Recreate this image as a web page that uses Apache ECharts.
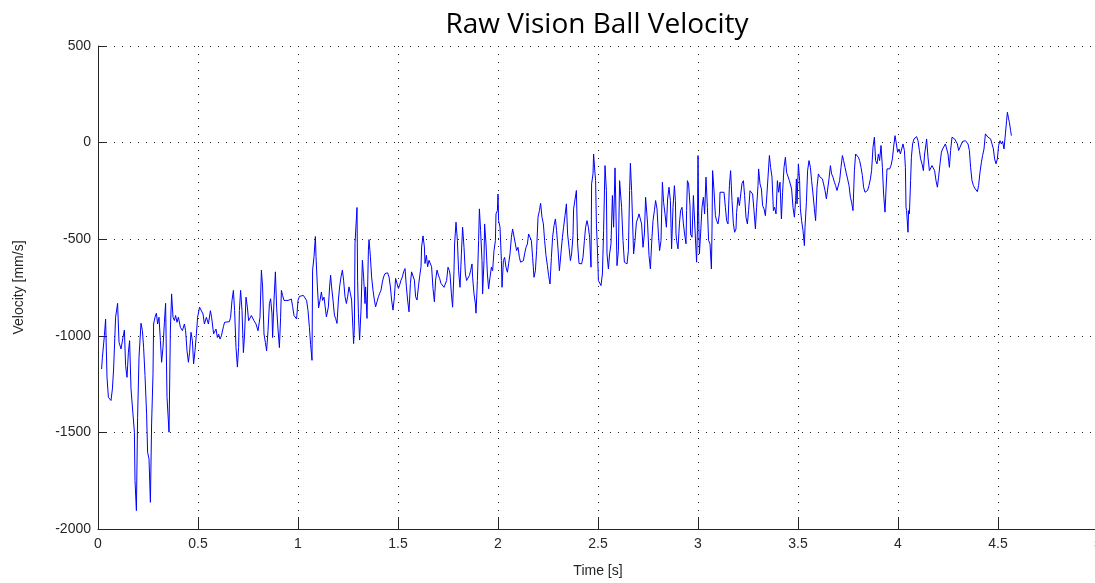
<!DOCTYPE html>
<html>
<head>
<meta charset="utf-8">
<title>Raw Vision Ball Velocity</title>
<script src="https://cdn.jsdelivr.net/npm/echarts@6/dist/echarts.min.js"></script>
<style>
  html, body { margin: 0; padding: 0; background: #ffffff; }
  #chart { width: 1095px; height: 583px; }
</style>
</head>
<body>
<div id="chart"></div>
<script>
// Ball velocity from the vision system, in time order, split into pieces.
// Each timeX array pairs index-by-index with its velX array (s, mm/s).
const timeA = [
  0.018,0.022,0.032,0.038,0.045,0.052,0.065,0.072,0.078,0.088,
  0.098,0.105,0.115,0.125,0.132,0.138,0.145,0.152,0.158,0.165,
  0.175,0.182,0.185,0.192,0.198,0.205,0.215,0.222,0.228,0.235,
  0.243,0.248,0.255,0.262,0.268,0.275,0.278,0.285,0.292,0.298,
  0.305,0.312,0.318,0.325,0.332,0.338,0.345,0.352,0.355,0.362,
  0.368,0.375,0.382,0.388,0.395,0.402,0.412,0.422,0.432,0.438,
  0.445,0.452,0.458,0.465,0.472,0.478,0.485,0.492,0.498,0.508,
  0.518,0.525,0.532,0.542,0.552,0.562,0.568,0.578
];
const velA = [
  -1172,-1111,-999,-913,-1215,-1318,-1335,-1275,-1172,-904,
  -832,-1033,-1068,-1008,-970,-1154,-1215,-1085,-1025,-1275,
  -1284,-1499,-1749,-1905,-1422,-1111,-935,-973,-1059,-1206,
  -1404,-1603,-1637,-1862,-1456,-1197,-939,-904,-883,-939,
  -904,-1025,-1137,-1059,-930,-832,-1318,-1318,-1499,-965,
  -783,-904,-921,-895,-930,-904,-956,-973,-939,-973,
  -1077,-1137,-1085,-982,-1025,-1146,-1077,-990,-904,-852,
  -844,-887,-939,-904,-939,-870,-904,-990
];

const timeB = [
  0.580,0.590,0.597,0.603,0.610,0.617,0.627,0.633,0.643,0.657,
  0.663,0.670,0.677,0.683,0.690,0.697,0.703,0.707,0.713,0.720,
  0.727,0.733,0.740,0.747,0.753,0.760,0.767,0.773,0.780,0.790,
  0.800,0.810,0.817,0.823,0.830,0.837,0.843,0.850,0.857,0.863,
  0.870,0.873,0.880,0.887,0.893,0.900,0.907,0.913,0.917,0.923,
  0.930,0.940,0.950,0.960,0.967,0.973,0.980,0.987,0.993,1.000,
  1.007,1.017,1.027,1.037,1.043,1.050,1.057,1.063,1.070,1.073,
  1.080,1.087,1.090,1.097,1.103,1.110,1.117,1.123,1.130
];
const velB = [
  -991,-965,-1009,-991,-1017,-1000,-953,-930,-927,-927,
  -904,-817,-765,-869,-1061,-1162,-1061,-869,-765,-869,
  -1087,-991,-800,-852,-922,-922,-895,-904,-922,-939,
  -974,-904,-660,-747,-991,-1035,-1078,-974,-834,-808,
  -887,-1009,-817,-669,-852,-965,-1061,-904,-765,-791,
  -817,-814,-817,-808,-810,-848,-895,-887,-913,-817,
  -796,-791,-791,-800,-817,-869,-956,-1044,-1127,-660,
  -591,-486,-591,-747,-855,-817,-773,-817,-800
];

const timeC = [
  1.142,1.148,1.152,1.158,1.163,1.168,1.175,1.182,1.188,1.195,
  1.202,1.208,1.215,1.222,1.228,1.235,1.242,1.248,1.255,1.262,
  1.268,1.275,1.278,1.282,1.285,1.292,1.295,1.298,1.302,1.308,
  1.315,1.322,1.328,1.335,1.338,1.345,1.352,1.355,1.362,1.368,
  1.375,1.382,1.388,1.395,1.402,1.408,1.415,1.422,1.428,1.435,
  1.442,1.448,1.455,1.462,1.468,1.475,1.482,1.488,1.495,1.502,
  1.508,1.515,1.522,1.528,1.535,1.542,1.548,1.555,1.562,1.568,
  1.575,1.582,1.588,1.595,1.602,1.608,1.615,1.618,1.625,1.632,
  1.635,1.642,1.648,1.655,1.662,1.668,1.675,1.682,1.688,1.695,
  1.702,1.708,1.715,1.722
];
const velC = [
  -902,-910,-850,-747,-686,-747,-815,-893,-910,-936,
  -815,-747,-695,-660,-712,-798,-833,-798,-747,-781,
  -815,-971,-1040,-953,-522,-522,-336,-712,-884,-1022,
  -867,-609,-695,-833,-747,-910,-557,-502,-591,-695,
  -764,-815,-850,-824,-798,-781,-764,-721,-695,-678,
  -669,-674,-695,-747,-815,-867,-798,-703,-712,-755,
  -738,-712,-695,-669,-652,-747,-815,-876,-729,-669,
  -678,-712,-798,-815,-747,-695,-643,-540,-483,-540,
  -626,-583,-643,-609,-600,-643,-755,-824,-712,-660,
  -686,-703,-729,-738
];

const timeD = [
  1.730,1.737,1.743,1.750,1.757,1.760,1.767,1.773,1.780,1.783,
  1.790,1.797,1.803,1.810,1.817,1.823,1.830,1.837,1.843,1.850,
  1.857,1.863,1.870,1.873,1.880,1.887,1.890,1.897,1.903,1.907,
  1.913,1.920,1.923,1.930,1.933,1.940,1.947,1.953,1.960,1.967,
  1.973,1.980,1.987,1.990,1.997,2.000,2.003,2.010,2.017,2.020,
  2.027,2.033,2.040,2.047,2.053,2.060,2.067,2.073,2.080,2.087,
  2.093,2.100,2.107,2.113,2.120,2.127,2.133,2.140,2.147,2.153,
  2.160,2.167,2.173,2.180,2.187,2.193,2.200,2.207,2.213,2.220,
  2.227,2.233,2.240,2.247,2.253,2.260,2.267,2.273,2.280,2.287,
  2.293,2.300,2.307
];
const velD = [
  -749,-740,-714,-645,-663,-680,-783,-852,-663,-525,
  -412,-507,-663,-749,-576,-438,-542,-680,-714,-723,
  -688,-663,-628,-697,-783,-835,-883,-714,-507,-343,
  -456,-611,-783,-611,-421,-525,-680,-757,-697,-645,
  -663,-559,-507,-369,-352,-266,-404,-438,-611,-749,
  -611,-594,-645,-671,-628,-576,-490,-447,-456,-525,
  -559,-542,-594,-619,-628,-611,-576,-542,-525,-473,
  -469,-507,-594,-697,-663,-559,-387,-352,-314,-387,
  -421,-507,-585,-637,-688,-732,-594,-490,-430,-395,
  -456,-550,-663
];

const timeE = [
  2.315,2.322,2.328,2.335,2.342,2.348,2.355,2.362,2.368,2.375,
  2.378,2.385,2.392,2.398,2.405,2.412,2.418,2.425,2.432,2.438,
  2.445,2.452,2.458,2.465,2.468,2.475,2.478,2.485,2.488,2.492,
  2.498,2.502,2.508,2.515,2.522,2.528,2.532,2.535,2.542,2.545,
  2.552,2.558,2.565,2.572,2.578,2.585,2.588,2.595,2.602,2.608,
  2.612,2.618,2.625,2.632,2.638,2.645,2.652,2.658,2.662,2.668,
  2.675,2.678,2.685,2.692,2.698,2.705,2.712,2.718,2.725,2.732,
  2.738,2.742,2.748,2.755,2.762,2.768,2.775,2.782,2.788,2.795,
  2.802,2.808,2.815,2.822,2.828,2.835,2.842,2.848,2.855,2.862,
  2.868,2.875,2.882
];
const velE = [
  -663,-490,-438,-378,-317,-473,-542,-611,-576,-481,
  -343,-335,-248,-524,-625,-628,-628,-593,-507,-438,
  -404,-438,-490,-645,-214,-162,-59,-162,-197,-421,
  -576,-714,-714,-740,-680,-455,-266,-119,-248,-576,
  -654,-576,-524,-274,-438,-131,-266,-637,-559,-197,
  -193,-335,-507,-619,-628,-628,-559,-248,-107,-248,
  -240,-576,-507,-412,-395,-369,-361,-421,-542,-473,
  -283,-292,-421,-585,-654,-524,-404,-352,-300,-343,
  -473,-559,-507,-205,-309,-369,-438,-292,-231,-300,
  -550,-335,-223
];

const timeF = [
  2.887,2.890,2.893,2.900,2.907,2.913,2.920,2.927,2.933,2.940,
  2.943,2.947,2.953,2.960,2.963,2.970,2.977,2.983,2.990,2.993,
  2.997,3.000,3.003,3.007,3.013,3.020,3.027,3.033,3.040,3.047,
  3.053,3.060,3.067,3.070,3.073,3.080,3.087,3.093,3.100,3.107,
  3.110,3.120,3.130,3.137,3.143,3.150,3.157,3.163,3.170,3.177,
  3.183,3.190,3.193,3.200,3.207,3.213,3.220,3.227,3.233,3.240,
  3.247,3.253,3.260,3.267,3.273,3.280,3.287,3.293,3.300,3.303,
  3.310,3.317,3.323,3.330,3.337,3.343,3.350,3.357,3.363,3.370,
  3.377,3.383,3.390,3.397,3.403,3.410,3.417,3.423,3.430,3.437,
  3.443,3.450,3.457
];
const velF = [
  -300,-473,-507,-550,-421,-352,-335,-421,-473,-524,
  -352,-197,-214,-326,-473,-490,-274,-283,-559,-619,
  -456,-67,-352,-576,-473,-335,-283,-369,-179,-335,
  -507,-524,-654,-456,-145,-249,-378,-404,-421,-369,
  -257,-257,-257,-335,-404,-421,-223,-145,-300,-421,
  -464,-447,-361,-283,-326,-335,-211,-197,-274,-387,
  -421,-352,-249,-240,-266,-352,-447,-335,-223,-136,
  -214,-240,-326,-343,-378,-292,-179,-67,-128,-179,
  -352,-335,-369,-197,-257,-205,-395,-257,-128,-76,
  -154,-162,-197
];

const timeG = [
  3.462,3.468,3.475,3.482,3.488,3.492,3.495,3.502,3.508,3.512,
  3.518,3.525,3.532,3.535,3.542,3.548,3.555,3.562,3.568,3.575,
  3.582,3.588,3.595,3.602,3.608,3.615,3.622,3.628,3.635,3.642,
  3.648,3.655,3.662,3.668,3.675,3.682,3.688,3.695,3.702,3.708,
  3.715,3.722,3.728,3.735,3.742,3.748,3.755,3.762,3.768,3.775,
  3.782,3.788,3.795,3.802,3.808,3.815,3.822,3.828,3.835,3.842,
  3.848,3.855,3.862,3.868,3.875,3.882,3.888,3.895,3.902,3.908,
  3.915,3.922,3.928,3.935,3.938,3.945,3.952,3.958,3.965,3.972,
  3.978,3.985,3.992,3.998,4.005,4.012,4.018,4.025,4.032
];
const velG = [
  -197,-240,-335,-386,-300,-188,-317,-110,-197,-343,
  -404,-455,-533,-438,-309,-145,-93,-128,-197,-266,
  -343,-404,-231,-162,-176,-179,-188,-214,-248,-291,
  -283,-188,-119,-162,-179,-205,-222,-248,-248,-197,
  -128,-67,-93,-128,-162,-188,-222,-283,-309,-352,
  -145,-59,-59,-76,-93,-128,-171,-231,-257,-257,
  -248,-222,-188,-145,-24,28,-93,-110,-59,-93,
  -15,-128,-266,-360,-291,-136,-136,-136,-119,-84,
  -24,36,-7,-50,-33,-59,-50,-7,-41
];

const timeH = [
  4.037,4.040,4.043,4.050,4.053,4.057,4.063,4.067,4.073,4.080,
  4.087,4.093,4.100,4.107,4.113,4.120,4.127,4.133,4.140,4.143,
  4.150,4.157,4.163,4.170,4.177,4.183,4.190,4.197,4.203,4.210,
  4.217,4.223,4.230,4.237,4.243,4.250,4.257,4.263,4.270,4.277,
  4.283,4.290,4.297,4.303,4.310,4.317,4.323,4.330,4.337,4.343,
  4.350,4.357,4.363,4.370,4.377,4.383,4.390,4.397,4.403,4.410,
  4.417,4.423,4.430,4.437,4.443,4.450,4.457,4.463,4.470,4.477,
  4.483,4.490,4.497,4.503,4.510,4.517,4.523,4.530,4.537,4.543,
  4.547,4.553,4.557,4.563,4.567
];
const velH = [
  -128,-335,-352,-464,-352,-369,-197,-76,-7,19,
  28,31,10,-41,-84,-110,-145,-59,-7,19,
  -76,-145,-136,-119,-119,-145,-197,-231,-179,-110,
  -50,-33,-24,-7,2,-59,-128,-41,28,31,
  19,10,-7,-41,-24,-7,6,14,10,2,
  -7,-41,-128,-197,-222,-235,-240,-254,-222,-153,
  -102,-67,-33,45,45,28,19,19,-7,-33,
  -84,-110,-84,-15,10,-7,7,-33,45,114,
  157,123,105,62,36
];

// Axis ranges (seconds / mm per second)
const xTicks = { min: 0, max: 5, step: 0.5 };
const yTicks = { min: -2000, max: 500, step: 500 };

const timeParts = [timeA, timeB, timeC, timeD, timeE, timeF, timeG, timeH];
const velParts = [velA, velB, velC, velD, velE, velF, velG, velH];

const points = [];
timeParts.forEach((ts, k) => {
  const vs = velParts[k];
  const n = Math.min(ts.length, vs.length);
  for (let i = 0; i < n; i++) points.push([ts[i], vs[i]]);
});

const textColor = '#262626';
const labelFont = 'Liberation Sans, Arial, sans-serif';
const gridDots = { type: [1, 7], color: '#222', width: 1 };

const chart = echarts.init(document.getElementById('chart'), null, { renderer: 'canvas' });
chart.setOption({
  backgroundColor: '#ffffff',
  animation: false,
  title: {
    text: 'Raw Vision Ball Velocity',
    left: 592,
    top: 6,
    textAlign: 'center',
    textStyle: { fontFamily: 'Open Sans, sans-serif', fontSize: 28, fontWeight: 'normal', color: '#000' }
  },
  grid: { left: 98, right: -3, top: 46, bottom: 54, containLabel: false, outerBoundsMode: 'none' },
  xAxis: {
    type: 'value',
    min: xTicks.min, max: xTicks.max, interval: xTicks.step,
    name: 'Time [s]',
    nameLocation: 'middle',
    nameGap: 35,
    nameTextStyle: { fontFamily: labelFont, fontSize: 14, color: textColor },
    axisLine: { show: true, onZero: false, lineStyle: { color: textColor, width: 1 } },
    axisTick: { show: true, inside: true, length: 12, lineStyle: { color: textColor, width: 1 } },
    axisLabel: { fontFamily: labelFont, fontSize: 14, color: textColor, margin: 8, formatter: v => String(v) },
    splitLine: { show: true, lineStyle: gridDots }
  },
  yAxis: {
    type: 'value',
    min: yTicks.min, max: yTicks.max, interval: yTicks.step,
    name: 'Velocity [mm/s]',
    nameLocation: 'middle',
    nameRotate: 90,
    nameGap: 72,
    nameTextStyle: { fontFamily: labelFont, fontSize: 14, color: textColor },
    axisLine: { show: true, onZero: false, lineStyle: { color: textColor, width: 1 } },
    axisTick: { show: true, inside: true, length: 9, lineStyle: { color: textColor, width: 1 } },
    axisLabel: { fontFamily: labelFont, fontSize: 14, color: textColor, margin: 7, formatter: v => String(v) },
    splitLine: { show: true, lineStyle: gridDots }
  },
  series: [{
    type: 'line',
    data: points,
    showSymbol: false,
    symbol: 'none',
    lineStyle: { color: '#0000ff', width: 1 },
    clip: true
  }]
});
</script>
</body>
</html>
